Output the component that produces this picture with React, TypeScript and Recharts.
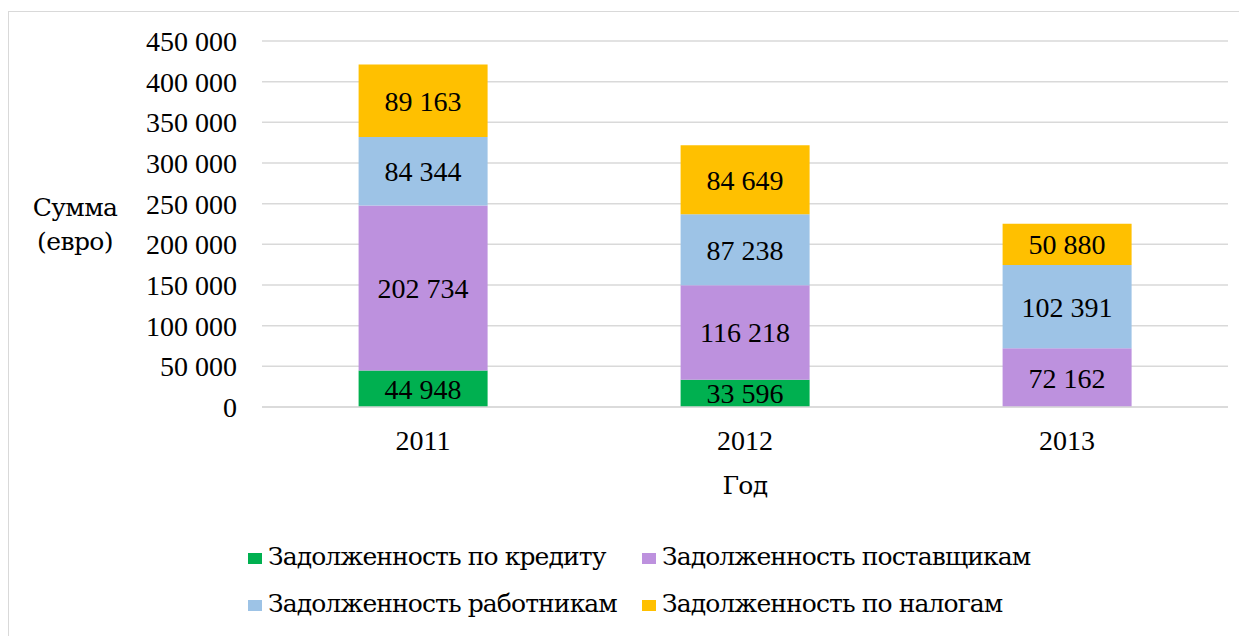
import React from 'react';
import { BarChart, Bar, XAxis, YAxis, CartesianGrid, Legend, LabelList } from 'recharts';

const years = ['2011', '2012', '2013'];
const credit = [44948, 33596, 0];
const suppliers = [202734, 116218, 72162];
const workers = [84344, 87238, 102391];
const taxes = [89163, 84649, 50880];
const yTicks = [0, 50000, 100000, 150000, 200000, 250000, 300000, 350000, 400000, 450000];

const seriesNames = [
  'Задолженность по кредиту',
  'Задолженность поставщикам',
  'Задолженность работникам',
  'Задолженность по налогам',
];
const seriesKeys = ['credit', 'suppliers', 'workers', 'taxes'];
const seriesColors = ['#00B050', '#BD91DE', '#9DC3E6', '#FFC000'];

const data = years.map((y, i) => ({
  year: y,
  credit: credit[i],
  suppliers: suppliers[i],
  workers: workers[i],
  taxes: taxes[i],
}));

const FONT = 'Liberation Serif, Tinos, Times New Roman, serif';
const CYR = 'DejaVu Serif, serif';
const FS = 28;
const CFS = 25;
const LS = -0.9;

const fmt = (v: any) => {
  const n = Number(v);
  if (!n) return '';
  return String(n).replace(/\B(?=(\d{3})+(?!\d))/g, ' ');
};

const YLabel = (props: any) => {
  const vb = props.viewBox || { x: 0, y: 0, width: 0, height: 0 };
  const cx = vb.x + 67;
  const cy = vb.y + vb.height / 2;
  return (
    <g>
      <text x={cx} y={cy - 17} textAnchor="middle" dominantBaseline="central" fontFamily={CYR} fontSize={CFS} letterSpacing={-0.6} fill="#000">
        Сумма
      </text>
      <text x={cx} y={cy + 17} textAnchor="middle" dominantBaseline="central" fontFamily={CYR} fontSize={CFS} letterSpacing={-0.6} fill="#000">
        (евро)
      </text>
    </g>
  );
};

const XLabel = (props: any) => {
  const vb = props.viewBox || { x: 0, y: 0, width: 0, height: 0 };
  return (
    <text x={vb.x + vb.width / 2} y={vb.y + 87} textAnchor="middle" fontFamily={CYR} fontSize={CFS} letterSpacing={-0.6} fill="#000">
      Год
    </text>
  );
};

const LegendContent = () => {
  const cols = [240, 634];
  const rows = [50, 97];
  return (
    <div style={{ position: 'relative', width: 1239, height: 129, fontFamily: CYR, fontSize: CFS, letterSpacing: LS, color: '#000' }}>
      {seriesNames.map((name, i) => {
        const col = cols[i % 2];
        const row = rows[Math.floor(i / 2)];
        return (
          <div key={name} style={{ position: 'absolute', left: col, top: row - 20, height: 40, display: 'flex', alignItems: 'center', whiteSpace: 'nowrap' }}>
            <span style={{ display: 'inline-block', width: 14, height: 11, background: seriesColors[i], marginRight: 6, marginTop: 2 }} />
            <span style={{ lineHeight: '40px' }}>{name}</span>
          </div>
        );
      })}
    </div>
  );
};

export default function App() {
  return (
    <div style={{ position: 'relative', width: 1239, height: 628 }}>
      <div
        style={{
          position: 'absolute',
          left: -1,
          top: 3,
          width: 1300,
          height: 700,
          borderLeft: '2px solid #D9D9D9',
          borderTop: '1px solid #D9D9D9',
          pointerEvents: 'none',
        }}
      />
      <BarChart
        width={1239}
        height={628}
        data={data}
        margin={{ top: 33, right: 19, left: 0, bottom: 0 }}
        barCategoryGap="30%"
        style={{ fontFamily: FONT }}
      >
        <CartesianGrid vertical={false} stroke="#D9D9D9" strokeWidth={1.5} />
        <XAxis
          dataKey="year"
          axisLine={{ stroke: '#D9D9D9', strokeWidth: 1.5 }}
          tickLine={false}
          tickSize={0}
          tickMargin={23}
          height={100}
          tick={{ fontFamily: FONT, fontSize: FS, fill: '#000' }}
          label={<XLabel />}
        />
        <YAxis
          width={254}
          domain={[0, 450000]}
          ticks={yTicks}
          interval={0}
          axisLine={false}
          tickLine={false}
          tickSize={0}
          tickMargin={25}
          tickFormatter={(v: number) => (v === 0 ? '0' : fmt(v))}
          tick={{ fontFamily: FONT, fontSize: FS, fill: '#000' }}
          label={<YLabel />}
        />
        <Legend verticalAlign="bottom" height={129} width={1239} wrapperStyle={{ left: 0 }} content={<LegendContent />} />
        {seriesKeys.map((k, i) => (
          <Bar key={k} dataKey={k} name={seriesNames[i]} stackId="a" fill={seriesColors[i]} isAnimationActive={false}>
            <LabelList dataKey={k} position="center" formatter={fmt} fill="#000" fontFamily={FONT} fontSize={FS} />
          </Bar>
        ))}
      </BarChart>
    </div>
  );
}
